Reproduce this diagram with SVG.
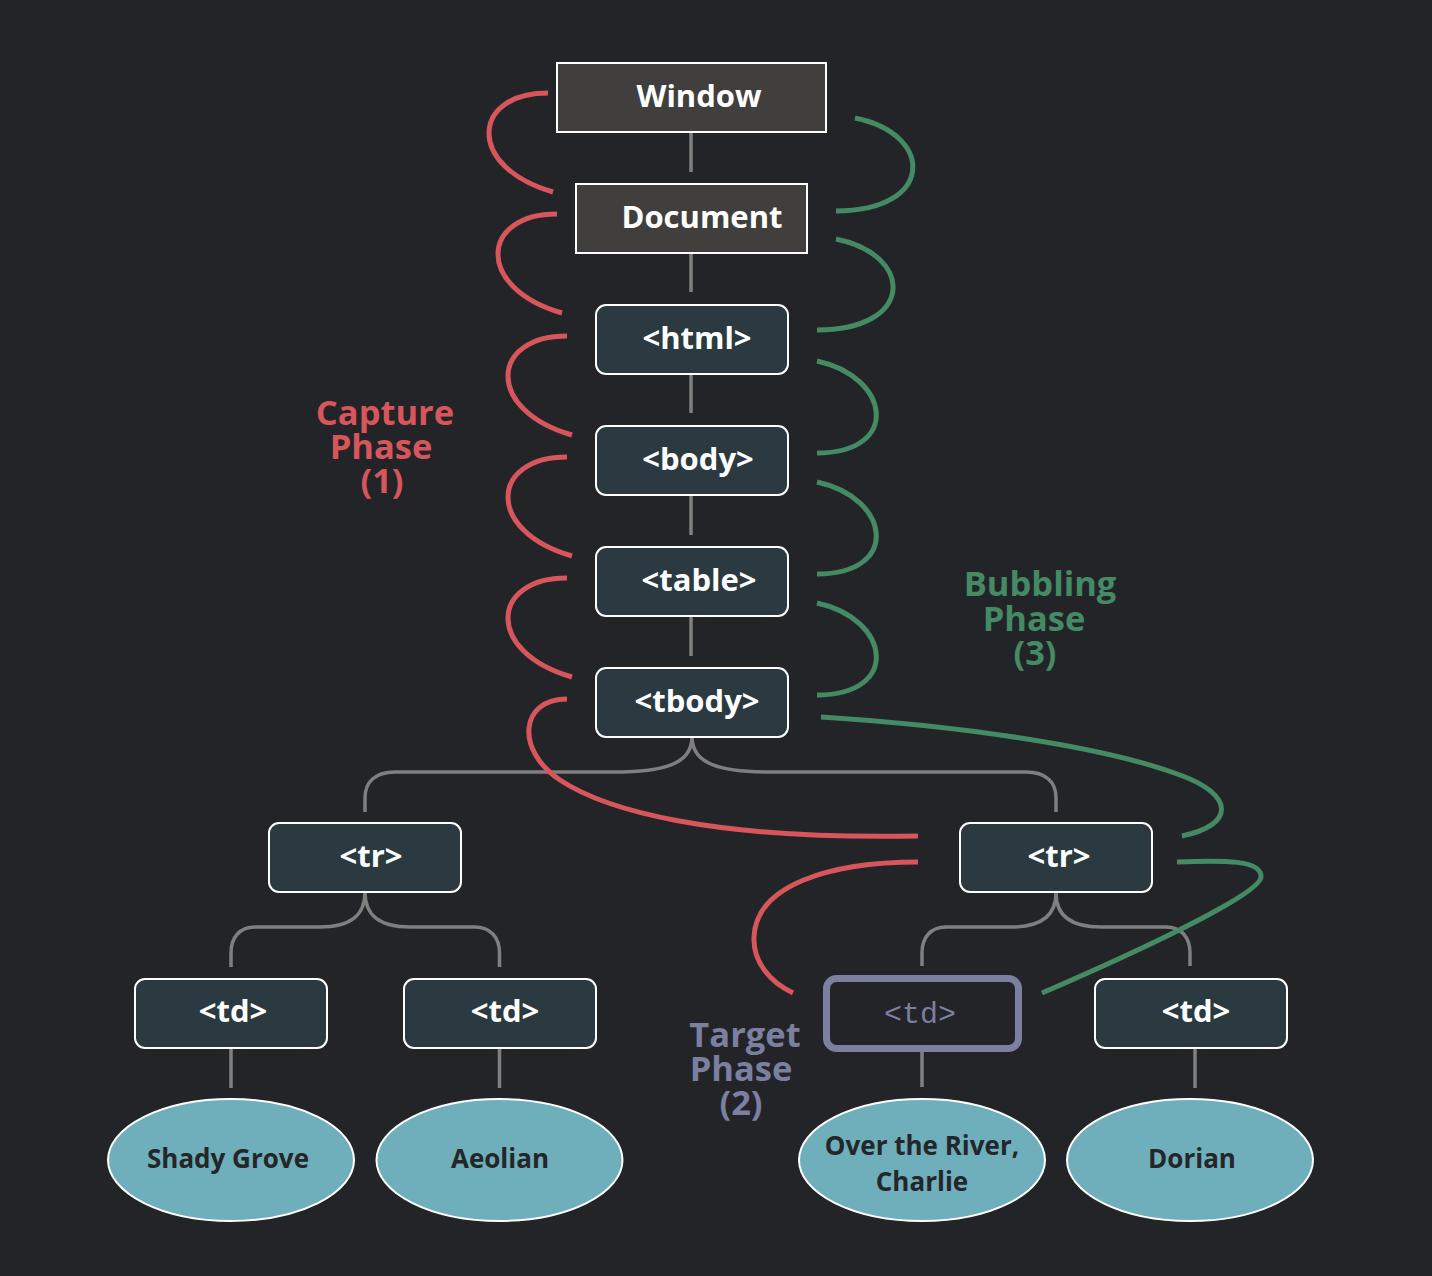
<svg xmlns="http://www.w3.org/2000/svg" width="1432" height="1276" viewBox="0 0 1432 1276">
<style>
.bg{fill:#232428}
.dark{fill:#403f3d;stroke:#ffffff;stroke-width:2}
.node{fill:#2a3a40;stroke:#ffffff;stroke-width:2}
.target{fill:#232428;stroke:#7b7fa0;stroke-width:7}
.leaf{fill:#6eafbb;stroke:#ffffff;stroke-width:2}
.lbl{font-family:"Open Sans","DejaVu Sans",sans-serif;font-weight:700;font-size:31px;fill:#ffffff;text-anchor:middle}
.leaftxt{font-family:"Open Sans","DejaVu Sans",sans-serif;font-weight:700;font-size:26px;fill:#24262a;text-anchor:middle}
.mono{font-family:"Liberation Mono","DejaVu Sans Mono",monospace;font-size:30px;fill:#7b7fa0;text-anchor:middle}
.phase{font-family:"Open Sans","DejaVu Sans",sans-serif;font-weight:700;font-size:34.5px;text-anchor:middle}
.tree{fill:none;stroke:#7f7f7f;stroke-width:3.5}
.cap{fill:none;stroke:#d6565c;stroke-width:5}
.bub{fill:none;stroke:#438a65;stroke-width:5}
</style>
<rect class="bg" x="0" y="0" width="1432" height="1276"/>

<g id="connectors">
  <!-- tree edges -->
  <path class="tree" d="M691,131 L691,172"/>
  <path class="tree" d="M691,253 L691,292"/>
  <path class="tree" d="M691,374 L691,413"/>
  <path class="tree" d="M691,495 L691,535"/>
  <path class="tree" d="M691,616 L691,656"/>
  <path class="tree" d="M692,737 C692,764 664,772 614,772 L395,772 C375,772 365,782 365,798 L365,812"/>
  <path class="tree" d="M692,737 C692,764 720,772 770,772 L1026,772 C1046,772 1056,782 1056,798 L1056,812"/>
  <path class="tree" d="M365,892 C365,916 350,927 320,927 L255,927 C240,927 231,937 231,953 L231,967"/>
  <path class="tree" d="M365,892 C365,916 380,927 410,927 L475,927 C490,927 499.5,937 499.5,953 L499.5,967"/>
  <path class="tree" d="M1056,893 C1056,916 1041,927 1011,927 L946,927 C931,927 922,937 922,953 L922,966"/>
  <path class="tree" d="M1056,893 C1056,916 1071,927 1101,927 L1166,927 C1181,927 1190,937 1190,953 L1190,966"/>
  <path class="tree" d="M231,1048 L231,1088"/>
  <path class="tree" d="M499.5,1048 L499.5,1088"/>
  <path class="tree" d="M922,1052 L922,1087"/>
  <path class="tree" d="M1195,1048 L1195,1088"/>
  <!-- capture phase -->
  <path class="cap" d="M548,93 c-77,0 -82,74 5,99"/>
  <path class="cap" d="M557,214 c-77,0 -82,74 5,99"/>
  <path class="cap" d="M567,336 c-77,0 -82,74 5,99"/>
  <path class="cap" d="M567,457 c-77,0 -82,74 5,99"/>
  <path class="cap" d="M567,578 c-77,0 -82,74 5,99"/>
  <path class="cap" d="M567,699 C520,699 515,750 560,780 C605,810 710,840 918,836"/>
  <path class="cap" d="M918,862 C830,862 756,885 754,937 C753,962 770,982 793,993"/>
  <!-- bubbling phase -->
  <path class="bub" d="M855,118 c80,16 80,93 -19,93"/>
  <path class="bub" d="M836,239 c79,16 79,91 -19,91"/>
  <path class="bub" d="M817,361 c74,16 84,92 0,92"/>
  <path class="bub" d="M817,482 c74,16 84,92 0,92"/>
  <path class="bub" d="M817,603 c74,16 84,92 0,92"/>
  <path class="bub" d="M821,717 C950,725 1100,745 1180,775 C1235,795 1235,825 1182,836"/>
  <path class="bub" d="M1177,862 C1225,860 1262,860 1261,877 C1260,895 1130,955 1042,993"/>
</g>

<g id="window"><rect class="dark" x="557" y="63" width="269" height="69"/><text class="lbl" x="699" y="107">Window</text></g>
<g id="document"><rect class="dark" x="576" y="184" width="231" height="69"/><text class="lbl" x="702" y="228">Document</text></g>
<g id="html"><rect class="node" x="596" y="305" width="192" height="69" rx="10"/><text class="lbl" x="697" y="349">&lt;html&gt;</text></g>
<g id="body"><rect class="node" x="596" y="426" width="192" height="69" rx="10"/><text class="lbl" x="698" y="470">&lt;body&gt;</text></g>
<g id="table"><rect class="node" x="596" y="547" width="192" height="69" rx="10"/><text class="lbl" x="699" y="591">&lt;table&gt;</text></g>
<g id="tbody"><rect class="node" x="596" y="668" width="192" height="69" rx="10"/><text class="lbl" x="697" y="712">&lt;tbody&gt;</text></g>
<g id="tr1"><rect class="node" x="269" y="823" width="192" height="69" rx="10"/><text class="lbl" x="371" y="867">&lt;tr&gt;</text></g>
<g id="tr2"><rect class="node" x="960" y="823" width="192" height="69" rx="10"/><text class="lbl" x="1059" y="867">&lt;tr&gt;</text></g>
<g id="td1"><rect class="node" x="135" y="979" width="192" height="69" rx="10"/><text class="lbl" x="233" y="1022">&lt;td&gt;</text></g>
<g id="td2"><rect class="node" x="404" y="979" width="192" height="69" rx="10"/><text class="lbl" x="505" y="1022">&lt;td&gt;</text></g>
<g id="td3"><rect class="target" x="826.5" y="978.5" width="192" height="70" rx="10"/><text class="mono" x="920" y="1023">&lt;td&gt;</text></g>
<g id="td4"><rect class="node" x="1095" y="979" width="192" height="69" rx="10"/><text class="lbl" x="1196" y="1022">&lt;td&gt;</text></g>

<g id="leaf1"><ellipse class="leaf" cx="231" cy="1160" rx="123" ry="61"/><text class="leaftxt" x="228" y="1168">Shady Grove</text></g>
<g id="leaf2"><ellipse class="leaf" cx="499.5" cy="1160" rx="123" ry="61"/><text class="leaftxt" x="500" y="1168">Aeolian</text></g>
<g id="leaf3"><ellipse class="leaf" cx="922" cy="1160" rx="123" ry="61"/><text class="leaftxt" x="922" y="1155">Over the River,</text><text class="leaftxt" x="922" y="1191">Charlie</text></g>
<g id="leaf4"><ellipse class="leaf" cx="1190" cy="1160" rx="123" ry="61"/><text class="leaftxt" x="1192" y="1168">Dorian</text></g>

<g id="capture-label"><text class="phase" fill="#d6565c"><tspan x="385" y="425">Capture</tspan><tspan x="381" y="459">Phase</tspan><tspan x="382" y="493">(1)</tspan></text></g>
<g id="bubbling-label"><text class="phase" fill="#438a65"><tspan x="1040" y="596">Bubbling</tspan><tspan x="1034" y="631">Phase</tspan><tspan x="1035" y="665">(3)</tspan></text></g>
<g id="target-label"><text class="phase" fill="#7b7fa0"><tspan x="745" y="1047">Target</tspan><tspan x="741" y="1081">Phase</tspan><tspan x="741" y="1115">(2)</tspan></text></g>
</svg>
